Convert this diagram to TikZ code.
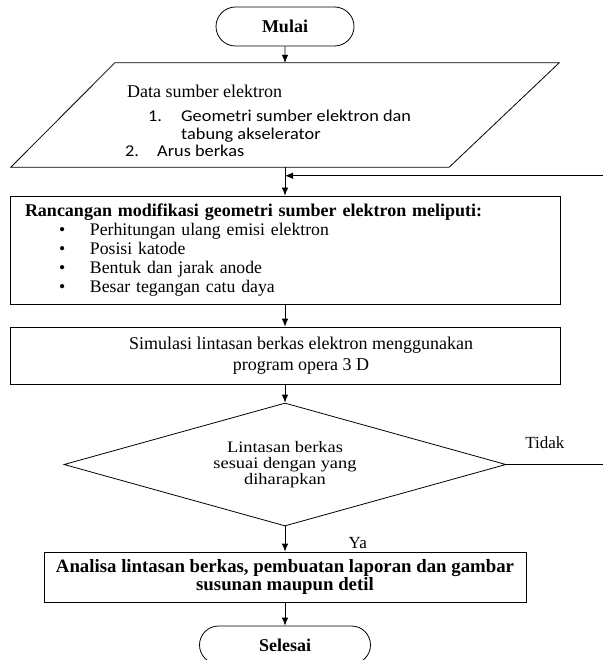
\documentclass[tikz,border=0pt]{standalone}
\usepackage{fontspec}
\setmainfont{Liberation Serif}
\newfontfamily\calibrifont[FakeStretch=1.11]{Carlito}
\usetikzlibrary{
    positioning,
    arrows.meta,
    shapes.geometric,
    shapes.misc,
    calc
}
\tikzset{
    flow/.style={
        draw,
        line width=0.8pt,
        fill=white,
        inner sep=0pt,
    },
    term/.style={
        flow,
        rounded rectangle,
        font=\fontsize{18}{19}\selectfont\bfseries,
    },
    proc/.style={
        flow,
        rectangle,
    },
    io/.style={
        line width=0.8pt,
    },
    decide/.style={
        flow,
        diamond,
        aspect=3.6,
        align=center,
        font=\fontsize{16}{16}\selectfont\addfontfeature{FakeStretch=1.15},
    },
    edge/.style={
        ->,
        >={Latex[length=8pt,width=6.5pt]},
        line width=0.8pt,
    },
}

\begin{document}
\begin{tikzpicture}[x=1pt,y=-1pt]
    \tikzset{
        on grid,
        edgelabel/.style={font=\fontsize{17}{19}\selectfont},
    }
    \useasboundingbox (0,0) rectangle (602,660);

    \node[term,minimum width=138pt,minimum height=39pt] (mulai) at (285,26.5) {Mulai};
    \node[minimum width=548pt,minimum height=104pt,inner sep=0pt,below=88.5pt of mulai] (data) {};
    \draw[io] (data.south west) -- ([xshift=104pt]data.north west) -- (data.north east)
        -- ([xshift=-110pt]data.south east) -- cycle;
    \node[anchor=west,align=left,inner sep=0pt,font=\calibrifont\fontsize{16.5}{17.5}\selectfont]
        (datalist) at ([xshift=-160pt,yshift=-6pt]data.center) {%
        \hspace*{2pt}{\rmfamily\fontsize{18}{20}\selectfont Data sumber elektron}\\[7pt]
        \hspace*{23pt}\makebox[33pt][l]{1.}Geometri sumber elektron dan\\
        \hspace*{56pt}tabung akselerator\\
        \makebox[32pt][l]{2.}Arus berkas};

    \node[proc,minimum width=550pt,minimum height=108pt,text width=520pt,align=left,
        font=\fontsize{17.7}{19}\selectfont,below=135pt of data] (rancangan) {%
        {\fontsize{18}{19}\selectfont\bfseries Rancangan modifikasi geometri sumber elektron meliputi:}\\
        \hspace*{34pt}\makebox[31pt][l]{\textbullet}Perhitungan ulang emisi elektron\\
        \hspace*{34pt}\makebox[31pt][l]{\textbullet}Posisi katode\\
        \hspace*{34pt}\makebox[31pt][l]{\textbullet}Bentuk dan jarak anode\\
        \hspace*{34pt}\makebox[31pt][l]{\textbullet}Besar tegangan catu daya};

    \node[proc,minimum width=550pt,minimum height=57pt,align=center,
        font=\fontsize{18}{21}\selectfont,below=105.5pt of rancangan] (simulasi) {%
        \hspace*{32pt}Simulasi lintasan berkas elektron menggunakan\\
        \hspace*{32pt}program opera 3 D};

    \node[decide,minimum width=442pt,minimum height=123pt,below=109pt of simulasi] (cek) {%
        Lintasan berkas\\sesuai dengan yang\\diharapkan};

    \node[proc,minimum width=482pt,minimum height=50pt,align=center,
        font=\fontsize{18.8}{18.5}\selectfont\bfseries,below=112.5pt of cek] (analisa) {%
        Analisa lintasan berkas, pembuatan laporan dan gambar\\susunan maupun detil};

    \node[term,minimum width=171pt,minimum height=38pt,below=68pt of analisa] (selesai) {Selesai};

    \coordinate (balik) at ($(data.south)!0.3!(rancangan.north)$);

    \draw[edge] (mulai) to[] (data);
    \draw[edge] (data) to[] (rancangan);
    \draw[edge] (rancangan) to[] (simulasi);
    \draw[edge] (simulasi) to[] (cek);
    \draw[edge] (cek) to[] node[edgelabel,pos=0.65,right=60pt] {Ya} (analisa);
    \draw[edge] (analisa) to[] (selesai);
    \draw[edge] (cek.east) -- node[edgelabel,pos=0.35,above=12pt] {Tidak} ++(110pt,0) |- (balik);
\end{tikzpicture}
\end{document}
